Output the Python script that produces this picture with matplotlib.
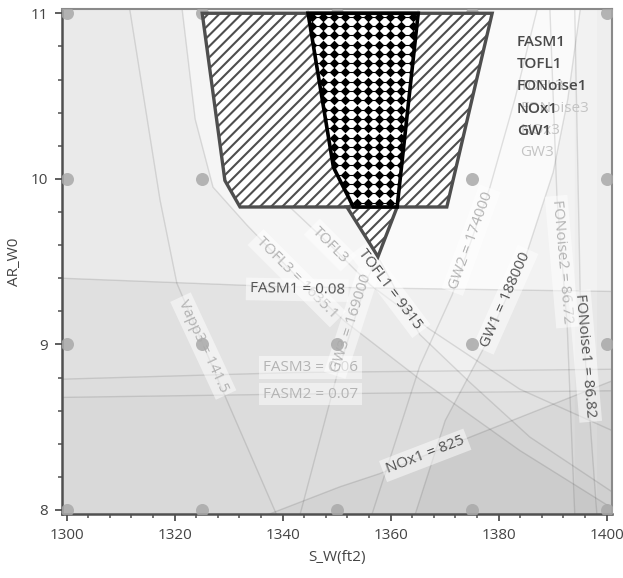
import numpy as np
import matplotlib
matplotlib.use("Agg")
import matplotlib.pyplot as plt
from matplotlib.patches import Polygon
from matplotlib.ticker import MultipleLocator

plt.rcParams['font.family'] = ['Open Sans', 'DejaVu Sans']
plt.rcParams['hatch.linewidth'] = 1.5

# ---------------- data ----------------
x_grid = [1300, 1325, 1350, 1375, 1400]
y_grid = [8, 9, 10, 11]
x_ticks = [1300, 1320, 1340, 1360, 1380, 1400]
y_ticks = [8, 9, 10, 11]

hatched_x = [1325.1, 1329.3, 1332.1, 1370.4, 1378.8]
hatched_y = [11.0, 9.99, 9.83, 9.83, 11.0]
wedge_x = [1351.9, 1357.65, 1361.2]
wedge_y = [9.83, 9.53, 9.83]
dotted_x = [1344.7, 1365.1, 1361.2, 1353.1, 1349.4]
dotted_y = [11.0, 11.0, 9.83, 9.83, 10.07]

vapp3_x = [1311.7, 1317.3, 1320.4, 1329.7, 1338.9]
vapp3_y = [11.02, 9.87, 9.37, 8.66, 7.97]
tofl3a_x = [1321.4, 1323.8, 1327.1, 1333.4, 1343.2, 1351.5, 1365.4, 1383.9, 1400.1]
tofl3a_y = [11.02, 10.36, 9.95, 9.72, 9.39, 9.14, 8.79, 8.36, 8.03]
tofl3b_x = [1337.7, 1341.3, 1348.8, 1356.2, 1367.3, 1383.9, 1401.0]
tofl3b_y = [9.99, 9.83, 9.60, 9.36, 9.09, 8.73, 8.48]
tofl1_x = [1344.7, 1349.4, 1353.0, 1357.65, 1365.4, 1374.7, 1385.8, 1401.0]
tofl1_y = [11.02, 10.07, 9.84, 9.53, 9.06, 8.77, 8.44, 8.11]
fasm1_x = [1299.0, 1338.6, 1401.0]
fasm1_y = [9.40, 9.35, 9.32]
fasm3_x = [1299.0, 1342.0, 1401.0]
fasm3_y = [8.79, 8.83, 8.85]
fasm2_x = [1299.0, 1342.0, 1401.0]
fasm2_y = [8.68, 8.70, 8.72]
gw3_x = [1343.2, 1350.1, 1355.6, 1357.65, 1361.2, 1365.1]
gw3_y = [7.97, 8.82, 9.39, 9.53, 9.83, 11.02]
gw2_x = [1356.5, 1365.4, 1371.4, 1378.4, 1383.0, 1387.1]
gw2_y = [7.97, 8.87, 9.30, 9.95, 10.48, 11.02]
gw1_x = [1364.5, 1370.1, 1377.1, 1385.2, 1390.1, 1392.8, 1395.1]
gw1_y = [7.97, 8.54, 8.97, 9.55, 10.04, 10.48, 11.02]
fonoise2_x = [1389.5, 1390.8, 1392.7, 1394.1]
fonoise2_y = [11.02, 9.89, 9.11, 7.97]
fonoise1_x = [1394.1, 1395.1, 1396.9, 1398.2]
fonoise1_y = [11.02, 9.32, 8.55, 7.97]
nox1_x = [1337.1, 1350.6, 1358.0, 1374.7, 1401.0]
nox1_y = [7.97, 8.14, 8.22, 8.44, 8.78]

label_text = ["Vapp3 = 141.5", "TOFL3 = 1635.1", "TOFL3", "FASM3 = 0.06", "FASM2 = 0.07",
              "FASM1 = 0.08", "GW3 = 169000", "TOFL1 = 9315", "GW2 = 174000",
              "GW1 = 188000", "FONoise2 = 86.72", "FONoise1 = 86.82", "NOx1 = 825"]
label_x = [1325.3, 1342.6, 1348.8, 1345.1, 1345.1, 1342.7, 1352.8, 1359.9, 1374.9,
           1381.3, 1391.7, 1396.0, 1366.4]
label_y = [8.99, 9.40, 9.60, 8.86, 8.70, 9.33, 9.13, 9.33, 9.63, 9.27, 9.50, 8.93, 8.33]
label_rot = [-65, -45, -45, 0, 0, -1, 72, -53, 70, 66, -85, -85, 21]
label_active = [False, False, False, False, False, True, False, True, False, True, False, True, True]

legend_active = ["FASM1", "TOFL1", "FONoise1", "NOx1", "GW1"]
legend_inactive = ["TOFL3", "FONoise3", "NOx3", "GW3"]

# ---------------- figure ----------------
fig = plt.figure(figsize=(6.23, 5.78), dpi=100)
ax = fig.add_axes([62 / 623, 1 - 514.3 / 578, 549.7 / 623, 505 / 578])
ax.set_facecolor('#fafafa')
x0, x1 = 1299.13, 1400.94
y0, y1 = 7.974, 11.024
ax.set_xlim(x0, x1)
ax.set_ylim(y0, y1)

L, R, B, T = x0 - 2, x1 + 2, y0 - 1, y1 + 1


def shade(xs, ys, extra, alpha):
    verts = list(zip(xs, ys)) + extra
    ax.add_patch(Polygon(verts, closed=True, fc='black', ec='none', alpha=alpha, zorder=0.5))


shade(tofl3a_x, tofl3a_y, [(R, tofl3a_y[-1]), (R, B), (L, B), (L, T), (tofl3a_x[0], T)], 0.03)
shade(tofl1_x, tofl1_y, [(R, tofl1_y[-1]), (R, B), (L, B), (L, T), (tofl1_x[0], T)], 0.02)
shade(vapp3_x, vapp3_y, [(vapp3_x[-1], B), (L, B), (L, T), (vapp3_x[0], T)], 0.01)
shade(fasm1_x, fasm1_y, [(R, fasm1_y[-1]), (R, B), (L, B), (L, fasm1_y[0])], 0.04)
shade(fasm3_x, fasm3_y, [(R, fasm3_y[-1]), (R, B), (L, B), (L, fasm3_y[0])], 0.01)
shade(fasm2_x, fasm2_y, [(R, fasm2_y[-1]), (R, B), (L, B), (L, fasm2_y[0])], 0.015)
shade(nox1_x, nox1_y, [(R, nox1_y[-1]), (R, B), (nox1_x[0], B)], 0.04)
shade(gw1_x, gw1_y, [(gw1_x[-1], T), (R, T), (R, B), (gw1_x[0], B)], 0.03)
shade(fonoise1_x, fonoise1_y, [(fonoise1_x[-1], T), (R, T), (R, B), (fonoise1_x[0], B)], 0.015)

for xs, ys in [(vapp3_x, vapp3_y), (tofl3a_x, tofl3a_y), (tofl3b_x, tofl3b_y),
               (tofl1_x, tofl1_y), (fasm1_x, fasm1_y), (fasm3_x, fasm3_y),
               (fasm2_x, fasm2_y), (gw3_x, gw3_y), (gw2_x, gw2_y), (gw1_x, gw1_y),
               (fonoise2_x, fonoise2_y), (fonoise1_x, fonoise1_y), (nox1_x, nox1_y)]:
    ax.plot(xs, ys, color='black', alpha=0.11, lw=1.0, zorder=1.5)

for i, (t, lx, ly, rot, act) in enumerate(zip(label_text, label_x, label_y, label_rot, label_active)):
    ax.text(lx, ly, t, rotation=rot, rotation_mode='anchor', ha='center', va='center',
            fontsize=11, color='#525252' if act else '#b4b4b4', zorder=2 + 0.01 * i,
            bbox=dict(boxstyle='square,pad=0.25', fc='white', ec='none', alpha=0.5))

GX, GY = np.meshgrid(x_grid, y_grid)
ax.scatter(GX.ravel(), GY.ravel(), s=88, c='#a9a9a9', alpha=0.85, lw=0, zorder=3)

# hatched feasible region
edge = '#4e4e4e'
for xs, ys in [(hatched_x, hatched_y), (wedge_x, wedge_y)]:
    ax.add_patch(Polygon(np.column_stack([xs, ys]), closed=True, fc='white', ec=edge,
                         lw=2.4, hatch='///', zorder=4))

# dotted region
dot_poly = Polygon(np.column_stack([dotted_x, dotted_y]), closed=True, fc='white', ec='none', zorder=5)
ax.add_patch(dot_poly)
step_x, step_y = 2.074, 0.0562
gx = np.arange(min(dotted_x) + 0.7, max(dotted_x), step_x)
gy = np.arange(max(dotted_y) - 0.02, min(dotted_y) - step_y, -step_y)
PX, PY = np.meshgrid(gx, gy)
sc = ax.scatter(PX.ravel(), PY.ravel(), marker='D', s=24, c='black', lw=0, zorder=5.1)
sc.set_clip_path(dot_poly)
for yy in gy:
    ln, = ax.plot([min(dotted_x) - 2, max(dotted_x) + 2], [yy, yy], color='black', lw=0.8, zorder=5.1)
    ln.set_clip_path(dot_poly)
ax.add_patch(Polygon(np.column_stack([dotted_x, dotted_y]), closed=True, fc='none', ec='black',
                     lw=2.6, zorder=5.2))

# legend texts
row_h = 22.2 / 505
y_first = (514.3 - 42) / 505
for i, t in enumerate(legend_inactive):
    ax.text((520 - 62) / 549.7, y_first - (i + 2) * row_h, t, transform=ax.transAxes,
            fontsize=11, color='#c4c4c4', va='center', ha='left', zorder=6)
for i, t in enumerate(legend_active):
    ax.text((517 - 62) / 549.7, y_first - i * row_h, t, transform=ax.transAxes,
            fontsize=11, color='#4a4a4a', va='center', ha='left', fontweight='semibold', zorder=6.1)

# axes styling
ax.set_xticks(x_ticks)
ax.set_yticks(y_ticks)
ax.xaxis.set_minor_locator(MultipleLocator(4))
ax.yaxis.set_minor_locator(MultipleLocator(0.2))
ax.tick_params(which='major', length=5, width=1.3, color='#505050', direction='out',
               labelsize=11, labelcolor='#444444', pad=5)
ax.tick_params(which='minor', length=3.2, width=1.1, color='#505050', direction='out')
for s in ['left', 'bottom']:
    ax.spines[s].set_color('#505050')
    ax.spines[s].set_linewidth(1.8)
for s in ['top', 'right']:
    ax.spines[s].set_color('#8a8a8a')
    ax.spines[s].set_linewidth(1.5)
ax.set_xlabel('S_W(ft2)', fontsize=11, color='#444444', labelpad=5)
ax.set_ylabel('AR_W0', fontsize=11, color='#444444', labelpad=6)

fig.savefig('out.png', dpi=100)
